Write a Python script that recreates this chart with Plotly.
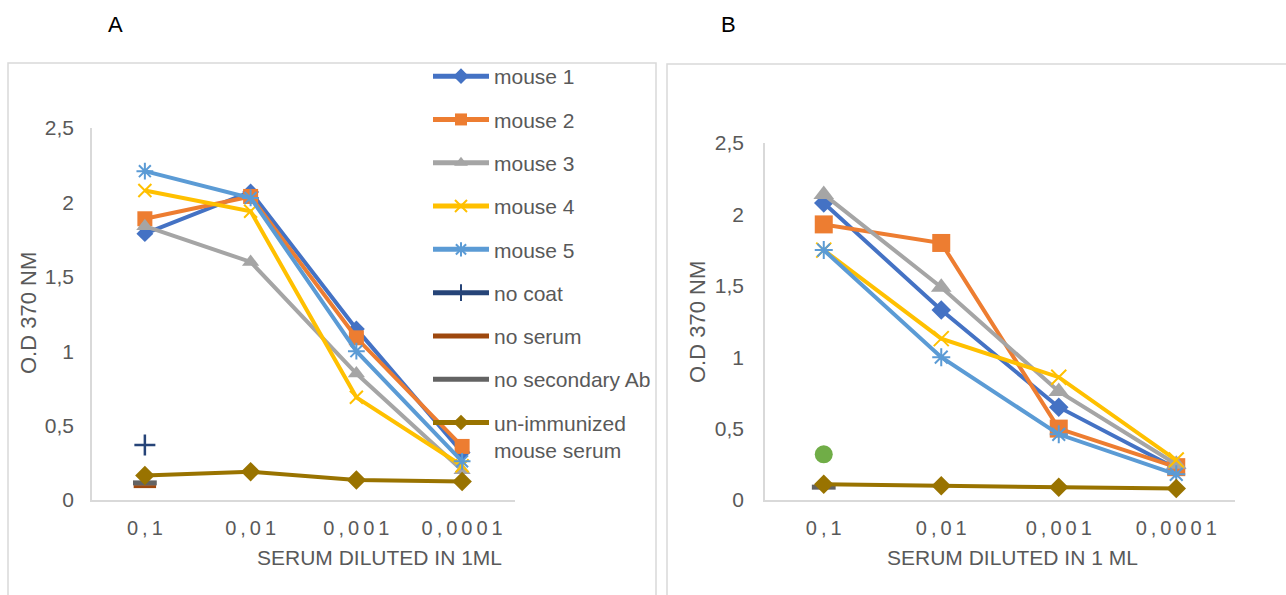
import plotly.graph_objects as go

# ---------------- data ----------------
dilutions = ["0,1", "0,01", "0,001", "0,0001"]
dilution_text = ["0\u2009,\u20091", "0\u2009,\u20090\u20091", "0\u2009,\u20090\u20090\u20091", "0\u2009,\u20090\u20090\u20090\u20091"]
y_ticks = [0, 0.5, 1, 1.5, 2, 2.5]
y_tick_text = ["0", "0,5", "1", "1,5", "2", "2,5"]

# Panel A
a_mouse1 = [1.79, 2.07, 1.15, 0.32]
a_mouse2 = [1.89, 2.04, 1.09, 0.36]
a_mouse3 = [1.84, 1.60, 0.85, 0.20]
a_mouse4 = [2.08, 1.94, 0.69, 0.23]
a_mouse5 = [2.21, 2.03, 1.00, 0.26]
a_no_coat = [0.37]
a_no_serum = [0.09]
a_no_secondary = [0.115]
a_unimmunized = [0.165, 0.19, 0.135, 0.125]

# Panel B
b_mouse1 = [2.08, 1.33, 0.65, 0.22]
b_mouse2 = [1.93, 1.80, 0.50, 0.23]
b_mouse3 = [2.14, 1.49, 0.76, 0.25]
b_mouse4 = [1.75, 1.13, 0.86, 0.28]
b_mouse5 = [1.75, 1.00, 0.46, 0.18]
b_extra = [0.32]
b_no_secondary = [0.09]
b_unimmunized = [0.11, 0.10, 0.09, 0.08]

names = ["mouse 1", "mouse 2", "mouse 3", "mouse 4", "mouse 5", "no coat",
         "no serum", "no secondary Ab", "un-immunized<br>mouse serum"]
colors = ["#4472C4", "#ED7D31", "#A5A5A5", "#FFC000", "#5B9BD5", "#264478",
          "#9E480E", "#636363", "#997300"]

FONT = "Liberation Sans, Arial, sans-serif"
TXT = "#595959"
LW = 4

fig = go.Figure()


def add(xs, ys, name, color, symbol, size, axis, show, lw_marker=0, gi=0):
    xa, ya = ("x", "y") if axis == 1 else ("x2", "y2")
    fig.add_trace(go.Scatter(
        x=xs, y=ys, name=name, mode="lines+markers",
        line=dict(color=color, width=LW),
        marker=dict(symbol=symbol, size=size, color=color,
                    line=dict(color=color, width=lw_marker)),
        xaxis=xa, yaxis=ya, showlegend=show,
        legendgroup="g%d" % gi, cliponaxis=False,
    ))


# Panel A traces
add(dilutions, a_mouse1, names[0], colors[0], "diamond", 13, 1, True, 0, 0)
add(dilutions, a_mouse2, names[1], colors[1], "square", 15, 1, True, 0, 1)
add(dilutions, a_mouse3, names[2], colors[2], "triangle-up", 15, 1, True, 0, 2)
add(dilutions, a_mouse4, names[3], colors[3], "x-thin", 13, 1, True, 2, 3)
add(dilutions, a_mouse5, names[4], colors[4], "asterisk-open", 14, 1, True, 2, 4)
add(dilutions[:1], a_no_coat, names[5], colors[5], "cross-thin", 15, 1, True, 2.5, 5)
add(dilutions[:1], a_no_serum, names[6], colors[6], "line-ew", 16, 1, True, 3, 6)
add(dilutions[:1], a_no_secondary, names[7], colors[7], "line-ew", 17, 1, True, 5, 7)
add(dilutions, a_unimmunized, names[8], colors[8], "diamond", 15, 1, True, 0, 8)

# Panel B traces
add(dilutions, b_mouse1, names[0], colors[0], "diamond", 15, 2, False)
add(dilutions, b_mouse2, names[1], colors[1], "square", 18, 2, False)
add(dilutions, b_mouse3, names[2], colors[2], "triangle-up", 18, 2, False)
add(dilutions, b_mouse4, names[3], colors[3], "x-thin", 15, 2, False, 2)
add(dilutions, b_mouse5, names[4], colors[4], "asterisk-open", 15, 2, False, 2)
add(dilutions[:1], b_extra, "no coat", "#70AD47", "circle", 18, 2, False)
add(dilutions[:1], b_no_secondary, names[7], colors[7], "line-ew", 17, 2, False, 5)
add(dilutions, b_unimmunized, names[8], colors[8], "diamond", 15, 2, False)

W, H = 1286, 595


def px(v):
    return v / W


def py(v):
    return 1 - v / H


xcommon = dict(type="category", categoryorder="array", categoryarray=dilutions,
               tickvals=dilutions, ticktext=dilution_text,
               showline=True, linecolor="#D9D9D9", linewidth=1.5,
               showgrid=False, zeroline=False, ticks="",
               ticklabelstandoff=9,
               tickfont=dict(family=FONT, size=20, color=TXT), range=[-0.5, 3.5])
ycommon = dict(range=[0, 2.5], tickvals=y_ticks, ticktext=y_tick_text,
               showline=True, linecolor="#D9D9D9", linewidth=1.5,
               showgrid=False, zeroline=False, ticks="",
               tickfont=dict(family=FONT, size=21, color=TXT))

fig.update_layout(
    width=W, height=H,
    margin=dict(l=0, r=0, t=0, b=0, pad=0, autoexpand=False),
    paper_bgcolor="white", plot_bgcolor="white",
    xaxis=dict(domain=[px(92), px(515)], anchor="y", **xcommon),
    yaxis=dict(domain=[py(500), py(128)], anchor="x", ticklabelstandoff=12, **ycommon),
    xaxis2=dict(domain=[px(765), px(1235)], anchor="y2", **xcommon),
    yaxis2=dict(domain=[py(500), py(143)], anchor="x2", ticklabelstandoff=15, **ycommon),
    legend=dict(x=px(428), y=py(56), xanchor="left", yanchor="top",
                font=dict(family=FONT, size=21, color=TXT),
                itemwidth=56, tracegroupgap=13, valign="top",
                itemsizing="constant",
                bgcolor="rgba(0,0,0,0)", traceorder="grouped",
                itemclick=False),
    showlegend=True,
    font=dict(family=FONT),
)

# panel borders
fig.add_shape(type="rect", xref="paper", yref="paper",
              x0=px(8), x1=px(656), y0=py(600), y1=py(63),
              line=dict(color="#D9D9D9", width=1.5))
fig.add_shape(type="rect", xref="paper", yref="paper",
              x0=px(667), x1=px(1292), y0=py(600), y1=py(64),
              line=dict(color="#D9D9D9", width=1.5))

ann = [
    dict(text="A", x=px(115), y=py(25), size=22, color="black"),
    dict(text="B", x=px(728), y=py(25), size=22, color="black"),
    dict(text="SERUM DILUTED IN 1ML", x=px(379), y=py(557), size=21, color=TXT),
    dict(text="SERUM DILUTED IN 1 ML", x=px(1012), y=py(557), size=21, color=TXT),
]
for a in ann:
    fig.add_annotation(text=a["text"], x=a["x"], y=a["y"], xref="paper", yref="paper",
                       showarrow=False, xanchor="center", yanchor="middle",
                       font=dict(family=FONT, size=a["size"], color=a["color"]))
for xx, yy in [(28, 313), (697, 322)]:
    fig.add_annotation(text="O.D 370 NM", x=px(xx), y=py(yy), xref="paper", yref="paper",
                       showarrow=False, xanchor="center", yanchor="middle", textangle=-90,
                       font=dict(family=FONT, size=22, color=TXT))

fig.write_html("out.html")
